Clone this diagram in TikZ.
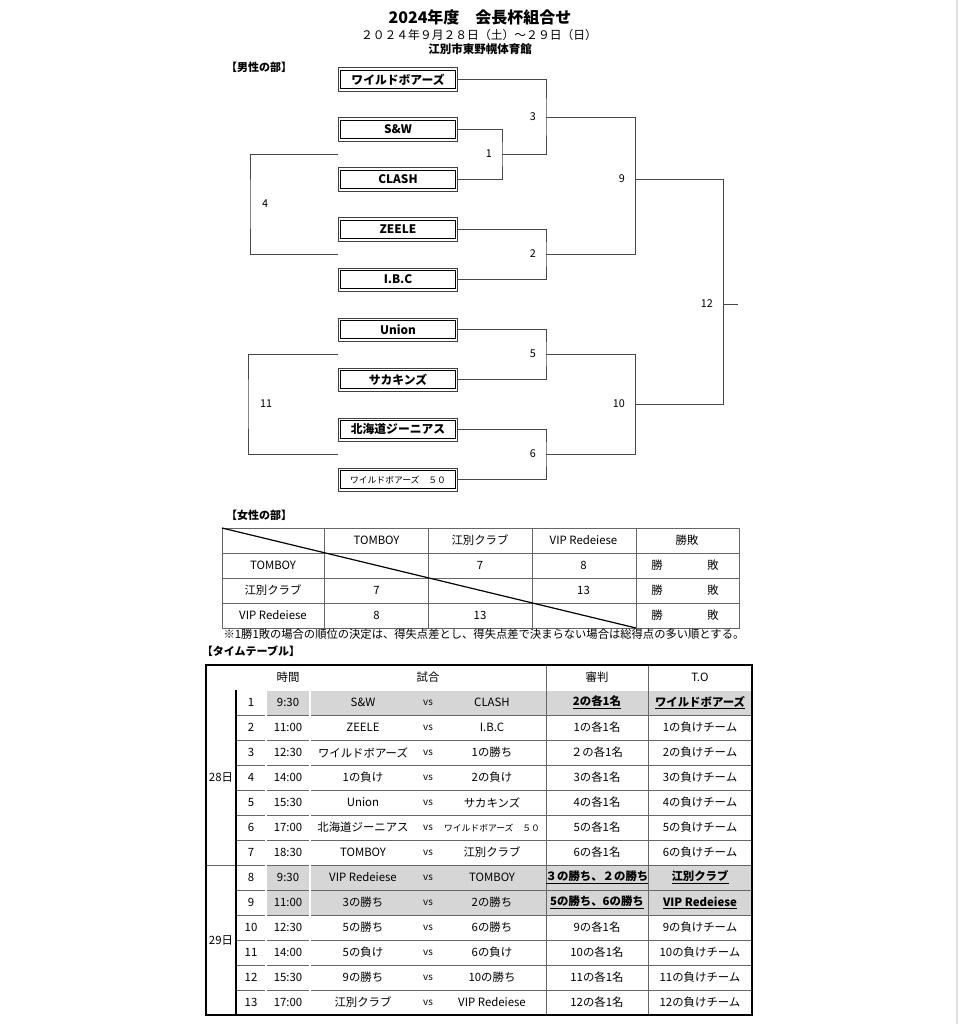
\documentclass[tikz,border=0pt]{standalone}
\usepackage{fontspec}
\setmainfont{Noto Sans CJK JP}
\usetikzlibrary{calc}

\newcommand{\keycell}[1]{\textbf{\underline{#1}}}
\newcommand{\smallteam}[1]{{\fontsize{8.8}{10}\selectfont #1}}

\begin{document}
\begin{tikzpicture}[x=1pt, y=-1pt, font=\fontsize{11.4}{13}\selectfont, line cap=butt, line join=miter]
    \tikzset{
        team/.style={draw=black!75, line width=0.8pt, minimum width=119.2pt, minimum height=23.2pt, inner sep=0pt, font=\fontsize{11.8}{13}\selectfont\bfseries},
        teamInner/.style={draw=black, line width=0.8pt},
        bracket/.style={draw=black!72, line width=0.9pt},
        matchNo/.style={inner sep=1pt, font=\fontsize{10.8}{12}\selectfont},
        grid/.style={draw=black!60, line width=0.65pt},
        twin/.style={draw=black!70, double=white, double distance=1.2pt, line width=0.55pt},
        cell/.style={inner sep=0pt, anchor=center},
        vsText/.style={font=\fontsize{9.8}{11}\selectfont},
        rowShade/.style={fill=black!16},
        sect/.style={inner sep=0pt, font=\fontsize{11}{13}\selectfont\bfseries}
    }

    \fill[white] (0,0) rectangle (963,1024);
    \useasboundingbox (0,0) rectangle (963,1024);
    \draw[black!12, line width=1.5pt] (957,0) -- (957,1024);

    % Heading
    \node[font=\fontsize{16}{18}\selectfont\bfseries] (title) at (480,17) {2024年度　会長杯組合せ};
    \node[font=\fontsize{11.8}{13}\selectfont] (dates) at (479,35) {２０２４年９月２８日（土）～２９日（日）};
    \node[font=\fontsize{11.5}{13}\selectfont\bfseries] (venue) at (480,49) {江別市東野幌体育館};

    % Men's bracket
    \node[sect] (men) at (259,67) {【男性の部】};
    \foreach \name/\team [count=\k from 0] in {wildboars/ワイルドボアーズ, sw/S\&W, clash/CLASH, zeele/ZEELE, ibc/I.B.C, union/Union, sakakins/サカキンズ, hokkaido/北海道ジーニアス}
        \node[team] (\name) at (398,79.5+50*\k) {\team};
    \node[team, font=\fontsize{8.8}{10}\selectfont] (wildboars50) at (398,479.5) {ワイルドボアーズ　５０};
    \foreach \name in {wildboars, sw, clash, zeele, ibc, union, sakakins, hokkaido, wildboars50}
        \draw[teamInner] ([shift={(2.8pt,2.8pt)}]\name.south west) rectangle ([shift={(-2.8pt,-2.8pt)}]\name.north east);

    \coordinate (m1) at (502,154);
    \coordinate (m2) at (546,254);
    \coordinate (m3) at (546,117);
    \coordinate (m5) at (546,354);
    \coordinate (m6) at (546,454);
    \coordinate (m9) at (635,179);
    \coordinate (m10) at (635,404);
    \coordinate (m12) at (723,304);
    \coordinate (m4) at (250,204);
    \coordinate (m11) at (248,404);
    \coordinate (final) at (738,304);

    \draw[bracket] (sw.east) -| (m1) |- (clash.east);
    \draw[bracket] (zeele.east) -| (m2) |- (ibc.east);
    \draw[bracket] (wildboars.east) -| (m3) |- (m1);
    \draw[bracket] (union.east) -| (m5) |- (sakakins.east);
    \draw[bracket] (hokkaido.east) -| (m6) |- (wildboars50.east);
    \draw[bracket] (m3) -| (m9) |- (m2);
    \draw[bracket] (m5) -| (m10) |- (m6);
    \draw[bracket] (m9) -| (m12) |- (m10);
    \draw[bracket] (m12) -- (final);
    \draw[bracket] (sw.west |- m1) -| (m4) |- (ibc.west |- m2);
    \draw[bracket] (union.west |- m5) -| (m11) |- (union.west |- m6);

    \foreach \m/\n in {m1/1, m2/2, m3/3, m5/5, m6/6, m9/9, m10/10, m12/12}
        \node[matchNo, left=9pt] (n\m) at (\m) {\n};
    \foreach \m/\n in {m4/4, m11/11}
        \node[matchNo, right=11pt] (n\m) at (\m) {\n};

    % Women's league
    \node[sect] (women) at (259,515) {【女性の部】};
    \draw[grid] (222,528) rectangle (739,628);
    \foreach \x in {324,428,532,636}
        \draw[grid] (\x,528) -- (\x,628);
    \foreach \y in {553,578,603}
        \draw[grid] (222,\y) -- (739,\y);
    \draw[line width=1.2pt] (222,528) -- (636,628);

    \foreach \txt [count=\c] in {TOMBOY, 江別クラブ, VIP Redeiese, 勝敗}
        \node[cell] (wh\c) at (273+103.5*\c,540.5) {\txt};
    \foreach \txt [count=\r] in {TOMBOY, 江別クラブ, VIP Redeiese}
    {
        \node[cell] (wr\r) at (273,540.5+25*\r) {\txt};
        \node[cell] (win\r) at (657,540.5+25*\r) {勝};
        \node[cell] (loss\r) at (713,540.5+25*\r) {敗};
    }
    \node[cell] (s12) at (480,565.5) {7};
    \node[cell] (s13) at (583.5,565.5) {8};
    \node[cell] (s21) at (376.5,590.5) {7};
    \node[cell] (s23) at (583.5,590.5) {13};
    \node[cell] (s31) at (376.5,615.5) {8};
    \node[cell] (s32) at (480,615.5) {13};

    \node[cell, font=\fontsize{11.3}{13}\selectfont] (rule) at (484,634) {※1勝1敗の場合の順位の決定は、得失点差とし、得失点差で決まらない場合は総得点の多い順とする。};

    % Time table
    \node[sect] (timetable) at (251,651) {【タイムテーブル】};
    \foreach \r in {1,8,9}
        \fill[rowShade] (266,665+25*\r) rectangle (752,690+25*\r);
    \foreach \r in {2,...,13}
        \draw[grid] (236,665+25*\r) -- (752,665+25*\r);
    \draw[grid] (206,865) -- (236,865);
    \draw[twin] (206,690) -- (752,690);
    \foreach \x in {266,310}
        \draw[twin] (\x,665) -- (\x,1015);
    \foreach \x in {546,648}
        \draw[grid] (\x,665) -- (\x,1015);
    \draw[line width=1.8pt] (236,690) -- (236,1015);
    \draw[line width=2.4pt] (206,665) rectangle (752,1015);

    \node[cell] (hTime) at (288,677.5) {時間};
    \node[cell] (hGame) at (428,677.5) {試合};
    \node[cell] (hRef) at (597,677.5) {審判};
    \node[cell] (hTO) at (700,677.5) {T.O};
    \node[cell] (day28) at (221,777.5) {28日};
    \node[cell] (day29) at (221,940) {29日};

    \foreach \n/\tm/\home/\away/\refs/\desk in {
        1/9:30/S\&W/CLASH/\keycell{2の各1名}/\keycell{ワイルドボアーズ},
        2/11:00/ZEELE/I.B.C/1の各1名/1の負けチーム,
        3/12:30/ワイルドボアーズ/1の勝ち/２の各1名/2の負けチーム,
        4/14:00/1の負け/2の負け/3の各1名/3の負けチーム,
        5/15:30/Union/サカキンズ/4の各1名/4の負けチーム,
        6/17:00/北海道ジーニアス/\smallteam{ワイルドボアーズ　５０}/5の各1名/5の負けチーム,
        7/18:30/TOMBOY/江別クラブ/6の各1名/6の負けチーム,
        8/9:30/VIP Redeiese/TOMBOY/\keycell{３の勝ち、２の勝ち}/\keycell{江別クラブ},
        9/11:00/3の勝ち/2の勝ち/\keycell{5の勝ち、6の勝ち}/\keycell{VIP Redeiese},
        10/12:30/5の勝ち/6の勝ち/9の各1名/9の負けチーム,
        11/14:00/5の負け/6の負け/10の各1名/10の負けチーム,
        12/15:30/9の勝ち/10の勝ち/11の各1名/11の負けチーム,
        13/17:00/江別クラブ/VIP Redeiese/12の各1名/12の負けチーム}
    {
        \node[cell] (no\n) at (251,677.5+25*\n) {\n};
        \node[cell] (tm\n) at (288,677.5+25*\n) {\tm};
        \node[cell] (home\n) at (363,677.5+25*\n) {\home};
        \node[cell, vsText] (vs\n) at (428,677.5+25*\n) {vs};
        \node[cell] (away\n) at (492,677.5+25*\n) {\away};
        \node[cell] (refs\n) at (597,677.5+25*\n) {\refs};
        \node[cell] (desk\n) at (700,677.5+25*\n) {\desk};
    }
\end{tikzpicture}
\end{document}
